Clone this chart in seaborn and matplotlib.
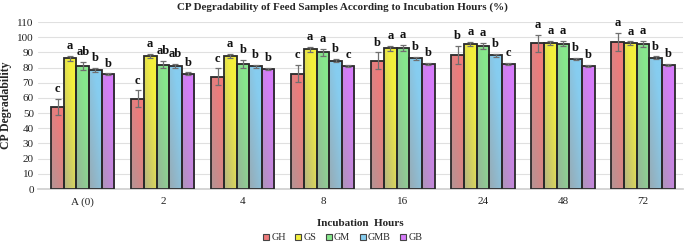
import numpy as np
import pandas as pd
import matplotlib
matplotlib.use("Agg")
import matplotlib.pyplot as plt
import seaborn as sns
from matplotlib.colors import to_rgb
from matplotlib.lines import Line2D

hours = ["A (0)", "2", "4", "8", "16", "24", "48", "72"]
samples = ["GH", "GS", "GM", "GMB", "GB"]

GH = [54.0, 59.5, 74.0, 76.0, 84.5, 88.4, 96.0, 96.9]
GS = [86.0, 87.5, 87.5, 92.0, 92.7, 95.6, 96.2, 96.0]
GM = [81.0, 82.0, 82.5, 90.0, 92.9, 94.2, 95.8, 95.8]
GMB = [78.5, 81.0, 81.0, 84.5, 86.2, 88.0, 85.8, 86.4]
GB = [75.5, 76.0, 79.0, 81.0, 82.2, 82.2, 80.9, 81.6]

GH_err = [5.5, 5.5, 5.5, 5.5, 5.5, 6.0, 5.5, 6.0]
GS_err = [1.5, 1.5, 1.5, 1.5, 1.5, 1.2, 1.2, 1.2]
GM_err = [2.5, 2.5, 2.5, 2.5, 2.0, 2.0, 1.8, 2.0]
GMB_err = [1.2, 1.5, 1.0, 1.0, 1.0, 1.0, 0.8, 1.0]
GB_err = [0.7, 0.8, 0.8, 0.8, 0.6, 0.6, 0.8, 0.8]

GH_let = ["c", "c", "c", "c", "b", "b", "a", "a"]
GS_let = ["a", "a", "a", "a", "a", "a", "a", "a"]
GM_let = ["ab", "ab", "b", "a", "a", "a", "a", "a"]
GMB_let = ["b", "ab", "b", "b", "b", "b", "b", "b"]
GB_let = ["b", "b", "b", "c", "b", "c", "b", "b"]

colors = ["#ee7b7b", "#f4f03c", "#86e88c", "#86cdf0", "#d67cfa"]

values = [GH, GS, GM, GMB, GB]
errs = [GH_err, GS_err, GM_err, GMB_err, GB_err]
letters = [GH_let, GS_let, GM_let, GMB_let, GB_let]

rows = []
for s, v in zip(samples, values):
    for h, y in zip(hours, v):
        rows.append({"Hour": h, "Sample": s, "Value": y})
df = pd.DataFrame(rows)

sns.set_theme(style="white")
serif = ["Liberation Serif", "DejaVu Serif"]
plt.rcParams["font.family"] = serif

fig = plt.figure(figsize=(6.85, 2.43), dpi=100)
ax = fig.add_axes([38 / 685, 54 / 243, 645 / 685, 167 / 243])

sns.barplot(data=df, x="Hour", y="Value", hue="Sample", order=hours,
            hue_order=samples, palette=colors, errorbar=None, width=0.79,
            edgecolor="#2a2a2a", linewidth=1.3, legend=False, ax=ax, zorder=3)

ax.set_xlim(-0.56, 7.5)
ax.set_ylim(0, 110)
ax.set_yticks(np.arange(0, 111, 10))
ax.grid(axis="y", color="#e0e0e0", linewidth=0.8, zorder=0)
ax.set_axisbelow(True)
for sp in ["top", "right", "left"]:
    ax.spines[sp].set_visible(False)
ax.spines["bottom"].set_color("#d0d0d0")
ax.tick_params(axis="both", length=0, labelsize=8, colors="#222222", pad=3)
ax.tick_params(axis="x", pad=6)

grey = np.array([0.62, 0.62, 0.62])
patches = [p for p in ax.patches]
nH = len(hours)
for i, p in enumerate(patches):
    si = i // nH
    hi = i % nH
    x0, y0 = p.get_x(), p.get_y()
    w, h = p.get_width(), p.get_height()
    col = np.array(to_rgb(colors[si]))
    nx, ny = 40, 80
    u = np.linspace(0, 1, nx)[None, :]
    v = np.linspace(0, 1, ny)[:, None]
    t = np.clip(0.25 + 0.45 * u + 0.55 * v, 0, 1)
    img = grey[None, None, :] * (1 - t[..., None]) + col[None, None, :] * t[..., None]
    im = ax.imshow(img, extent=[x0, x0 + w, y0, y0 + h], origin="lower",
                   aspect="auto", zorder=2.5, interpolation="bilinear")
    im.set_clip_path(p)
    p.set_facecolor("none")
    cx = x0 + w / 2
    top = values[si][hi] + errs[si][hi]
    ax.errorbar(cx, values[si][hi], yerr=errs[si][hi], color="#707070",
                elinewidth=0.9, capsize=2.2, capthick=0.9, zorder=4)
    ax.text(cx, top + 2.5, letters[si][hi], ha="center", va="bottom",
            fontsize=9, fontweight="bold", color="#111111")

ax.set_xlim(-0.56, 7.5)
ax.set_ylim(0, 110)
ax.set_xlabel("Incubation  Hours", fontsize=8, fontweight="bold", labelpad=9)
ax.set_ylabel("CP Degradability", fontsize=8.5, fontweight="bold", labelpad=4)
fig.text(0.5, 0.972, "CP Degradability of Feed Samples According to Incubation Hours (%)",
         ha="center", va="center", fontsize=7.9, fontweight="bold")

handles = [Line2D([0], [0], marker="s", linestyle="none", markersize=4.5,
                  markerfacecolor=c, markeredgecolor="#444444", markeredgewidth=0.8)
           for c in colors]
fig.legend(handles, samples, loc="center", bbox_to_anchor=(0.5, 0.022), ncol=5,
           frameon=False, fontsize=7.3, handlelength=0.7, handletextpad=0.15,
           columnspacing=0.9, borderpad=0)

fig.savefig("out.png", dpi=100)
